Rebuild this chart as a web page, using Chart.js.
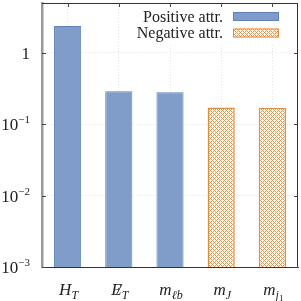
<!DOCTYPE html>
<html>
<head>
<meta charset="utf-8">
<script src="https://cdn.jsdelivr.net/npm/chart.js@4.4.1/dist/chart.umd.min.js"></script>
<style>
  html, body { margin: 0; padding: 0; background: #fff; }
</style>
</head>
<body>
<canvas id="myChart" width="301" height="301"></canvas>
<script>
// data
const categories = ['H_T', 'E\u0338_T', 'm_\u2113b', 'm_J', 'm_j1'];
const positiveValues = [2.39, 0.29, 0.28, null, null];
const negativeValues = [null, null, null, 0.172, 0.171];
const seriesLabels = ['Positive attr.', 'Negative attr.'];
const yTickValues = [0.001, 0.01, 0.1, 1];
const yTickLabels = ['10^-3', '10^-2', '10^-1', '1'];

const SERIF = '"Liberation Serif", "DejaVu Serif", serif';
const blue = 'rgb(127, 157, 200)';
const blueEdge = 'rgb(95, 128, 182)';
const orange = 'rgb(226, 138, 62)';

// crosshatch fill for the negative bars (crisp diagonals)
function makeHatch() {
  const n = 4;
  const c = document.createElement('canvas');
  c.width = n; c.height = n;
  const g = c.getContext('2d');
  const img = g.createImageData(n, n);
  for (let yy = 0; yy < n; yy++) {
    for (let xx = 0; xx < n; xx++) {
      const on = (xx + yy) % n === 0 || ((xx - yy) % n + n) % n === 0;
      const k = (yy * n + xx) * 4;
      img.data[k] = on ? 230 : 255;
      img.data[k + 1] = on ? 148 : 255;
      img.data[k + 2] = on ? 78 : 255;
      img.data[k + 3] = 255;
    }
  }
  g.putImageData(img, 0, 0);
  return g.createPattern(c, 'repeat');
}

// draws "base_sub" with italic letters, upright small digits
function drawMathLabel(ctx, label, cx, baseline) {
  const parts = label.split('_');
  let main = parts[0];
  const sub = parts[1] || '';
  const slashed = main.includes('\u0338');
  main = main.replace('\u0338', '');
  const mainFont = 'italic 17px ' + SERIF;
  const subFont = 'italic 12px ' + SERIF;
  const digFont = '9px ' + SERIF;
  ctx.font = mainFont;
  const wMain = ctx.measureText(main).width;
  let pieces = [];
  for (const ch of sub) {
    const isDig = /[0-9]/.test(ch);
    ctx.font = isDig ? digFont : subFont;
    pieces.push({ ch, font: isDig ? digFont : subFont, w: ctx.measureText(ch).width, dy: isDig ? 6 : 4 });
  }
  const wSub = pieces.reduce((a, p) => a + p.w, 0);
  let x = cx - (wMain + wSub) / 2;
  ctx.font = mainFont;
  ctx.fillText(main, x, baseline);
  if (slashed) {
    ctx.textAlign = 'center';
    ctx.fillText('/', x + wMain / 2 + 2.5, baseline);
    ctx.textAlign = 'left';
  }
  x += wMain;
  for (const p of pieces) {
    ctx.font = p.font;
    ctx.fillText(p.ch, x, baseline + p.dy);
    x += p.w;
  }
}

function drawPowerLabel(ctx, label, right, y) {
  const parts = label.split('^');
  const bigFont = '17px ' + SERIF;
  const supFont = '11px ' + SERIF;
  const base = parts[0];
  const sup = parts[1] ? parts[1].replace('-', '\u2212') : '';
  ctx.font = supFont;
  const wSup = sup ? ctx.measureText(sup).width : 0;
  ctx.font = bigFont;
  const wBase = ctx.measureText(base).width;
  const x = right - wBase - wSup;
  ctx.fillText(base, x, y + 6);
  if (sup) {
    ctx.font = supFont;
    ctx.fillText(sup, x + wBase, y - 1);
  }
}

const framePlugin = {
  id: 'frame',
  afterDatasetsDraw(chart) {
    const { ctx, chartArea: a, scales: { x, y } } = chart;
    ctx.save();
    ctx.textAlign = 'left';
    ctx.textBaseline = 'alphabetic';

    // legend (text left of the box)
    ctx.fillStyle = '#fff';
    ctx.fillRect(a.right - 160, a.top + 4, 152, 36);
    chart.data.datasets.forEach((ds, i) => {
      const cy = a.top + 13.5 + i * 16.5;
      const bx = a.right - 65, bw = 46, bh = 9;
      ctx.fillStyle = ds.backgroundColor;
      ctx.fillRect(bx, cy - bh / 2, bw, bh);
      ctx.strokeStyle = ds.borderColor;
      ctx.lineWidth = 1;
      ctx.strokeRect(bx + 0.5, cy - bh / 2 + 0.5, bw - 1, bh - 1);
      ctx.fillStyle = '#222';
      ctx.font = '16px ' + SERIF;
      ctx.textAlign = 'right';
      ctx.fillText(ds.label, bx - 10, cy + 5);
    });

    // top and right frame
    ctx.strokeStyle = '#333';
    ctx.lineWidth = 1;
    ctx.beginPath();
    ctx.moveTo(a.left, a.top + 0.5); ctx.lineTo(a.right, a.top + 0.5);
    ctx.moveTo(a.right - 0.5, a.top); ctx.lineTo(a.right - 0.5, a.bottom);
    ctx.stroke();

    // inward ticks
    ctx.strokeStyle = '#444';
    ctx.beginPath();
    yTickValues.forEach(v => {
      const py = Math.round(y.getPixelForValue(v)) + 0.5;
      ctx.moveTo(a.left, py); ctx.lineTo(a.left + 4, py);
      ctx.moveTo(a.right, py); ctx.lineTo(a.right - 4, py);
    });
    categories.forEach((c, i) => {
      const px = Math.round(x.getPixelForValue(i)) + 0.5;
      ctx.moveTo(px, a.top); ctx.lineTo(px, a.top + 4);
    });
    ctx.stroke();

    // axis labels
    ctx.fillStyle = '#222';
    ctx.textAlign = 'left';
    yTickValues.forEach((v, i) => {
      drawPowerLabel(ctx, yTickLabels[i], a.left - 12, y.getPixelForValue(v));
    });
    categories.forEach((c, i) => {
      drawMathLabel(ctx, c, x.getPixelForValue(i) + 1, a.bottom + 28);
    });
    ctx.restore();
  }
};

const ctx = document.getElementById('myChart').getContext('2d');
const barChart = new Chart(ctx, {
  type: 'bar',
  data: {
    labels: categories,
    datasets: [{
      label: seriesLabels[0],
      data: positiveValues,
      backgroundColor: blue,
      borderColor: blueEdge,
      borderWidth: 1
    }, {
      label: seriesLabels[1],
      data: negativeValues,
      backgroundColor: makeHatch(),
      borderColor: orange,
      borderWidth: 1.5
    }]
  },
  options: {
    responsive: false,
    animation: false,
    layout: { padding: { top: 3, right: 3, left: 0, bottom: 0 } },
    datasets: { bar: { grouped: false, barPercentage: 0.53, categoryPercentage: 1 } },
    plugins: { legend: { display: false }, tooltip: { enabled: false } },
    scales: {
      x: {
        grid: { offset: false, color: 'rgba(0,0,0,0.15)', lineWidth: 0.8, drawTicks: false },
        border: { display: true, color: '#333', width: 1, dash: [1, 2] },
        ticks: { display: false },
        afterFit: s => { s.height = 34; }
      },
      y: {
        type: 'logarithmic',
        min: 0.001,
        max: 5,
        afterBuildTicks: s => { s.ticks = yTickValues.map(v => ({ value: v })); },
        grid: { color: 'rgba(0,0,0,0.15)', lineWidth: 0.8, drawTicks: false },
        border: { display: true, color: '#999', width: 2.5, dash: [1, 2] },
        ticks: { display: false },
        afterFit: s => { s.width = 42; }
      }
    }
  },
  plugins: [framePlugin]
});
</script>
</body>
</html>
